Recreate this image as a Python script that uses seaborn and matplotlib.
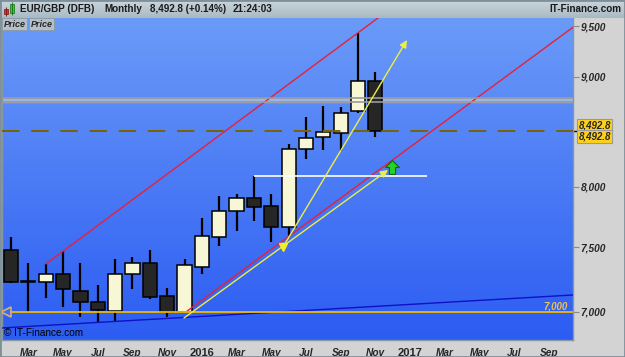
import numpy as np
import pandas as pd
import matplotlib
matplotlib.use("Agg")
import matplotlib.pyplot as plt
import seaborn as sns
from matplotlib.colors import LinearSegmentedColormap
from matplotlib.ticker import FixedLocator, NullLocator, FuncFormatter
from matplotlib.patches import Rectangle

# EUR/GBP monthly candles, Feb 2015 .. Nov 2016 (price x 10000)
opens = [7477, 7232, 7224, 7288, 7157, 7075, 7005, 7286, 7372, 7121, 7000,
         7345, 7580, 7796, 7903, 7835, 7661, 8328, 8435, 8477, 8676, 8959]
highs = [7584, 7374, 7366, 7469, 7372, 7203, 7406, 7424, 7477, 7177, 7406,
         7740, 7922, 7936, 8095, 7936, 8373, 8617, 8723, 8710, 9428, 9042]
lows = [7221, 6997, 7101, 7035, 6962, 6914, 6933, 7172, 7096, 6958, 6990,
        7288, 7510, 7633, 7716, 7544, 7580, 8239, 8321, 8315, 8660, 8440]
closes = [7228, 7225, 7286, 7170, 7075, 7013, 7288, 7372, 7113, 7000, 7359,
          7590, 7798, 7903, 7826, 7661, 8328, 8426, 8481, 8654, 8959, 8492.8]

# month index 0 = Feb 2015
tick_pos = [1, 3, 5, 7, 9, 11, 13, 15, 17, 19, 21, 23, 25, 27, 29, 31]
tick_labels = ["Mar", "May", "Jul", "Sep", "Nov", "2016", "Mar", "May", "Jul",
               "Sep", "Nov", "2017", "Mar", "May", "Jul", "Sep"]
price_ticks = [7000, 7500, 8000, 9000, 9500]
last_price = 8492.8
support_level = 7000
resist_band = [8757, 8800]
apr_high = 8095

# drawn trend lines (month index, price)
upper_red_x, upper_red_y = [2, 21.2], [7366, 9590]
lower_red_x, lower_red_y = [10, 32.4], [6990, 9490]
blue_x, blue_y = [-0.52, 32.4], [6879, 7126]
arrow_a = [(9.97, 6953), (21.73, 8145)]
arrow_b = [(15.68, 7502), (22.82, 9360)]

sns.set_style("white")
plt.rcParams["font.family"] = ["Liberation Sans", "DejaVu Sans"]

W, H = 625, 357
fig = plt.figure(figsize=(W / 100, H / 100), dpi=100, facecolor="#d3d3d3")


def px(l, t, r, b):
    return [l / W, 1 - b / H, (r - l) / W, (b - t) / H]


# blue gradient background of the plot area
bg = fig.add_axes(px(2, 18, 573, 340))
blue = LinearSegmentedColormap.from_list("bg", ["#6b9bf8", "#2c5cf2"])
bg.imshow(np.linspace(0, 1, 256).reshape(-1, 1), cmap=blue, aspect="auto",
          extent=[0, 1, 0, 1])
bg.set_axis_off()

ax = fig.add_axes(px(2, 18, 573, 340))
ax.patch.set_alpha(0)
ax.set_yscale("log")

df = pd.DataFrame({"x": np.arange(len(opens)), "o": opens, "h": highs,
                   "l": lows, "c": closes})
up = df.c >= df.o

# horizontal levels
ax.axhspan(resist_band[0], resist_band[1], color="#9db4ea", zorder=1)
for v in resist_band:
    ax.axhline(v, color="#9a9a9a", lw=1.2, zorder=6)
ax.axhline(last_price, color="#7a6400", lw=1.4, dashes=(9, 6), zorder=6)
ax.axhline(support_level, color="#f0b800", lw=1.3, zorder=6)
ax.plot([-0.3], [support_level], marker="<", ms=7, mfc="#3d6cf3",
        mec="#d8b070", mew=1.2, zorder=7, clip_on=False)
ax.hlines(apr_high, 14, 24, color="white", lw=1.2, zorder=6)

# candles
ax.vlines(df.x, df.l, df.h, color="black", lw=1.6, zorder=3)
ax.bar(df.x[up], (df.c - df.o)[up], bottom=df.o[up], width=0.82,
       color="#f7f7d6", edgecolor="black", lw=1.1, zorder=4)
ax.bar(df.x[~up], (df.o - df.c)[~up], bottom=df.c[~up], width=0.82,
       color="#262626", edgecolor="black", lw=1.1, zorder=4)

# trend lines
sns.lineplot(x=upper_red_x, y=upper_red_y, color="#e8203a", lw=1, ax=ax, zorder=5)
sns.lineplot(x=lower_red_x, y=lower_red_y, color="#e8203a", lw=1, ax=ax, zorder=5)
sns.lineplot(x=blue_x, y=blue_y, color="#1010c8", lw=1, ax=ax, zorder=5)
for start, end in (arrow_a, arrow_b):
    ax.annotate("", xy=end, xytext=start, zorder=8,
                arrowprops=dict(arrowstyle="-|>", color="#eeee44", lw=1,
                                mutation_scale=11, shrinkA=0, shrinkB=0))
ax.plot([arrow_b[0][0]], [arrow_b[0][1]], marker="v", ms=6, color="#f4f020",
        zorder=8)
up_arrow = [(-1, 0), (0, 1), (1, 0), (0.45, 0), (0.45, -1), (-0.45, -1),
            (-0.45, 0), (-1, 0)]
ax.plot([21.96], [8171], marker=up_arrow, ms=10, mfc="#28d028", mec="#0a6a0a",
        mew=0.8, zorder=9)

ax.set_xlim(-0.52, 32.39)
ax.set_ylim(6791, 9583)

# axes / ticks
ax.yaxis.tick_right()
ax.yaxis.set_major_locator(FixedLocator(price_ticks))
ax.yaxis.set_minor_locator(NullLocator())
ax.yaxis.set_major_formatter(FuncFormatter(lambda v, p: f"{v:,.0f}"))
ax.set_xticks(tick_pos, tick_labels)
ax.tick_params(axis="both", which="major", length=4, color="#8a8a8a",
               direction="out", labelsize=7.3, pad=1.5)
for lbl in ax.get_yticklabels():
    lbl.set_fontweight("bold")
    lbl.set_fontstyle("italic")
for lbl in ax.get_xticklabels():
    lbl.set_fontweight("bold")
    if lbl.get_text().isdigit():
        lbl.set_fontsize(8)
    else:
        lbl.set_fontstyle("italic")
for side, sp in ax.spines.items():
    sp.set_color("#8597a2")
    sp.set_linewidth(1)
    sp.set_visible(side in ("right", "bottom", "left"))

ax.text(0.99, support_level, "7,000", transform=ax.get_yaxis_transform(),
        ha="right", va="bottom", fontsize=7, color="#f2c44a",
        fontweight="bold", fontstyle="italic", zorder=9)
ax.text(0.003, 0.005, "\u00a9 IT-Finance.com", transform=ax.transAxes,
        ha="left", va="bottom", fontsize=7.2, color="black", zorder=9)

# last price flags on the right axis
for off in (4, -4):
    ax.annotate(f"{last_price:,.1f}", xy=(1, last_price),
                xycoords=ax.get_yaxis_transform(), xytext=(4, off),
                textcoords="offset points", ha="left", va="center",
                fontsize=7, fontweight="bold", fontstyle="italic",
                annotation_clip=False,
                bbox=dict(boxstyle="square,pad=0.12", fc="#ffd21a",
                          ec="#9a9a9a", lw=0.8))
ax.plot([1, 1.008], [last_price, last_price], color="black", lw=1,
        transform=ax.get_yaxis_transform(), clip_on=False)

# "Price Price" tabs
for x0, x1 in ((2, 27), (29, 54)):
    fig.add_artist(Rectangle((x0 / W, 1 - 30 / H), (x1 - x0) / W, 12 / H,
                             transform=fig.transFigure, fc="#b4c0c8",
                             ec="#8d9aa3", lw=0.6))
    fig.text((x0 + x1) / 2 / W, 1 - 24.5 / H, "Price", ha="center",
             va="center", fontsize=6.5, fontweight="bold", fontstyle="italic")

# header bar
hax = fig.add_axes([0, 1 - 18 / H, 1, 18 / H])
grey = LinearSegmentedColormap.from_list("hd", ["#cbd6dd", "#a9b9c3"])
hax.imshow(np.linspace(0, 1, 64).reshape(-1, 1), cmap=grey, aspect="auto",
           extent=[0, W, 18, 0])
hax.set_xlim(0, W)
hax.set_ylim(18, 0)
hax.set_axis_off()
hax.add_patch(Rectangle((3.5, 9), 4, 5, fc="#e03030", ec="#801010", lw=0.5))
hax.vlines(5.5, 7, 16, color="#801010", lw=0.6)
hax.add_patch(Rectangle((9.5, 3.5), 4.5, 9, fc="#30d030", ec="#107010", lw=0.5))
hax.vlines(11.75, 1.5, 15, color="#107010", lw=0.6)
header = [(20.5, "EUR/GBP (DFB)"), (104, "Monthly"),
          (150, "8,492.8 (+0.14%)"), (233, "21:24:03")]
for hx, txt in header:
    hax.text(hx, 9, txt, ha="left", va="center", fontsize=7.1,
             fontweight="bold", color="#1a1a1a")
hax.text(621, 9, "IT-Finance.com", ha="right", va="center", fontsize=7.1,
         fontweight="bold", color="#1a1a1a")

fig.add_artist(Rectangle((0, 0), 1, 1, transform=fig.transFigure, fill=False,
                         ec="#7f8f99", lw=2))

fig.savefig("out.png", dpi=100, facecolor=fig.get_facecolor())
